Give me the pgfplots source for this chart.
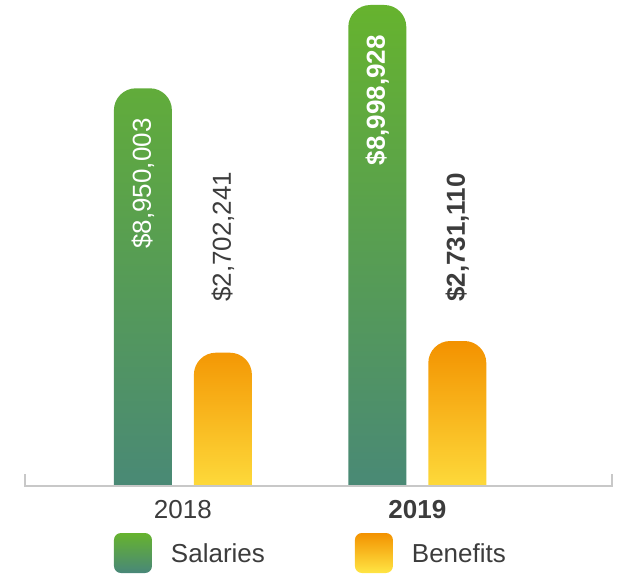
\documentclass[border=0pt]{standalone}
\usepackage{pgfplots}
\pgfplotsset{compat=1.18}
\usepackage{fontspec}
\setmainfont{Liberation Sans}

\definecolor{salTop}{HTML}{66B32E}
\definecolor{salBot}{HTML}{488779}
\definecolor{benTop}{HTML}{F39200}
\definecolor{benBot}{HTML}{FFE544}
\definecolor{txt}{HTML}{3C3C3C}
\definecolor{baseln}{HTML}{C8C8C8}

% bars start 24 units below the visible baseline (y=24); a white strip hides the
% rounded bottom corners so only the top ones show
\pgfplotsset{
  legsq/.style={legend image code/.code={
      \path[##1, draw=none, rounded corners=7pt] (0pt,-20pt) rectangle (38pt,20pt);}},
}

\begin{document}
\begin{tikzpicture}
\useasboundingbox (0,0) rectangle (618pt,574pt);
\begin{axis}[
  at={(25pt,64pt)}, anchor=south west,
  scale only axis, width=587pt, height=510pt,
  xmin=2017.3264, xmax=2019.8306,
  ymin=0, ymax=510,
  clip=false, axis on top,
  axis line style={draw=none},
  ytick=\empty,
  xtick={2018,2019},
  xticklabels={2018,\textbf{2019}},
  major tick length=0pt,
  xticklabel style={font=\fontsize{26}{26}\selectfont, text=txt, anchor=base, yshift=-8pt},
  legend columns=2,
  legend style={draw=none, fill=none, inner sep=0pt, outer sep=0pt,
    at={(0.1516,-0.0451)}, anchor=north west,
    font=\fontsize{26}{26}\selectfont, text=txt,
    nodes={inner sep=0pt, text depth=0pt}, cells={anchor=west},
    /tikz/every odd column/.append style={column sep=19pt},
    /tikz/every even column/.append style={column sep=90pt}},
]
\addplot[ybar, bar width=58pt, bar shift=-40pt, draw=none,
  top color=salTop, bottom color=salBot, rounded corners=22pt, legsq,
  nodes near coords, point meta=explicit symbolic,
  every node near coord/.append style={xshift=-40pt, yshift=-30pt, rotate=90, anchor=east,
    inner sep=0pt, text=white, font=\fontsize{26}{26}\selectfont}]
  coordinates {(2018,421.7) [\$8,950,003] (2019,505) [\textbf{\$8,998,928}]};
\addlegendentry{Salaries}
\addplot[ybar, bar width=58pt, bar shift=40pt, draw=none,
  top color=benTop, bottom color=benBot, rounded corners=22pt, legsq]
  coordinates {(2018,157.3) (2019,169)};
\addlegendentry{Benefits}
% benefits labels stand at a fixed height above the bars
\addplot[ybar, bar width=58pt, bar shift=40pt, draw=none, fill=none, forget plot,
  nodes near coords, point meta=explicit symbolic,
  every node near coord/.append style={xshift=40pt, rotate=90, anchor=west,
    inner sep=0pt, text=txt, font=\fontsize{26}{26}\selectfont}]
  coordinates {(2018,208) [\$2,702,241] (2019,208) [\textbf{\$2,731,110}]};
\fill[white] (axis cs:2017.3264,-4) rectangle (axis cs:2019.8306,23.6);
\draw[baseln, line width=1.5pt] (axis cs:2017.3264,36) -- (axis cs:2017.3264,24)
  -- (axis cs:2019.8306,24) -- (axis cs:2019.8306,36);
\end{axis}
\end{tikzpicture}
\end{document}
